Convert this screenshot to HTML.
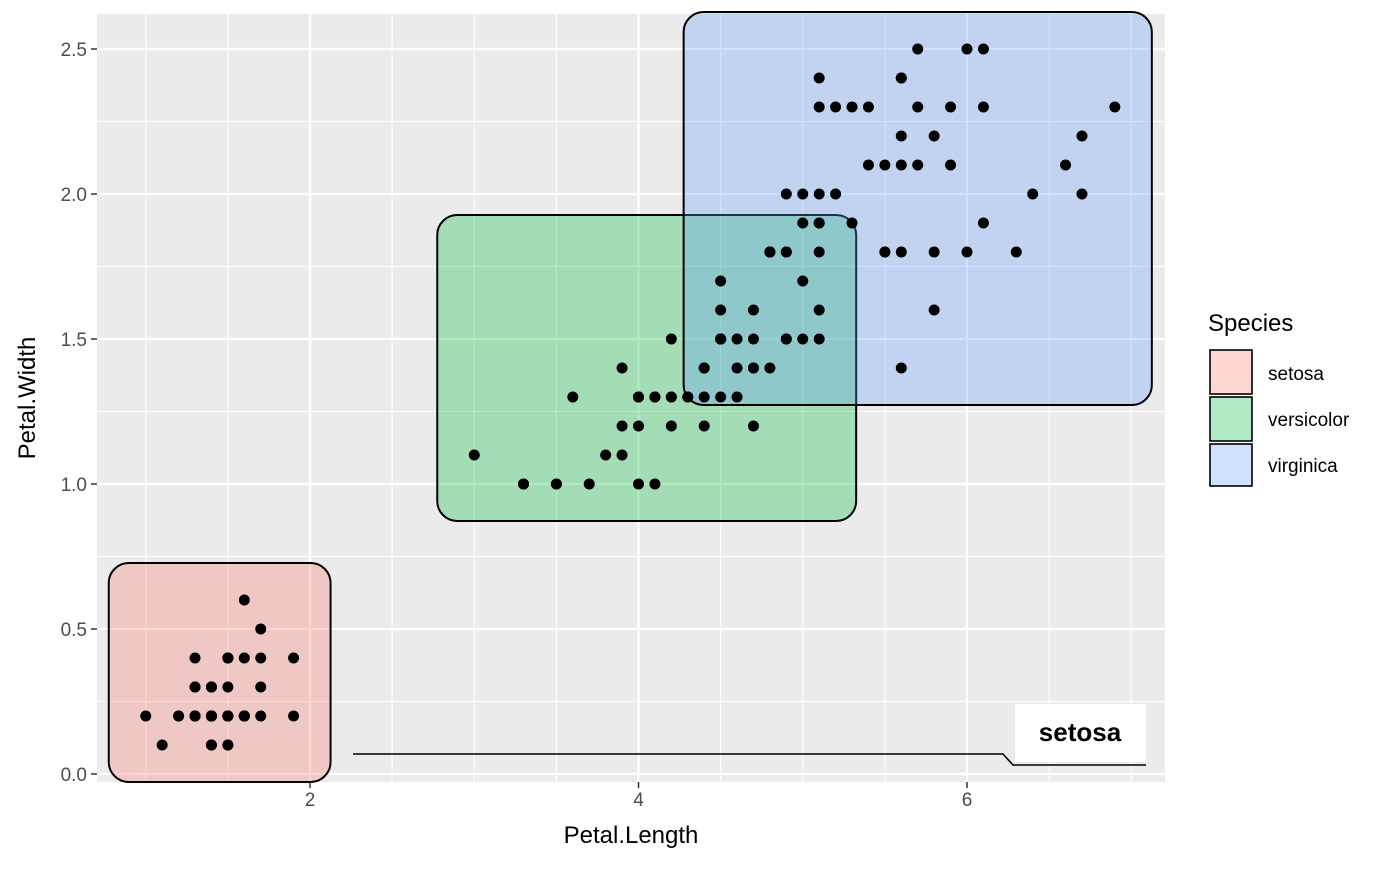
<!DOCTYPE html>
<html><head><meta charset="utf-8"><style>
body{margin:0;background:#fff;}
svg{font-family:"Liberation Sans",sans-serif;}
</style></head><body>
<svg id="chart" width="1400" height="866" viewBox="0 0 1400 866">
<rect x="97" y="14" width="1068" height="768" fill="#EBEBEB"/>
<g id="grid"></g>
<g id="marks"></g>
<g id="points"></g>
<g id="axes"></g>
<g>
<polyline points="353,754 1003,754 1013,765 1146,765" fill="none" stroke="#000" stroke-width="1.6"/>
<rect x="1015" y="704" width="131" height="58" fill="#fff"/>
<text x="1080" y="741" text-anchor="middle" font-size="26" font-weight="bold">setosa</text>
</g>
<text x="631" y="843" text-anchor="middle" font-size="24">Petal.Length</text>
<text transform="translate(35,398) rotate(-90)" text-anchor="middle" font-size="24">Petal.Width</text>
<g>
<text x="1208" y="331" font-size="24">Species</text>
<g><rect x="1210" y="350" width="42" height="44" fill="#F8766D" fill-opacity="0.3" stroke="#000" stroke-width="1.6"/><text x="1268" y="380" font-size="19">setosa</text></g>
<g><rect x="1210" y="397" width="42" height="44" fill="#00BA38" fill-opacity="0.3" stroke="#000" stroke-width="1.6"/><text x="1268" y="426" font-size="19">versicolor</text></g>
<g><rect x="1210" y="444" width="42" height="42" fill="#619CFF" fill-opacity="0.3" stroke="#000" stroke-width="1.6"/><text x="1268" y="472" font-size="19">virginica</text></g>
</g>
</svg>
<script>
const species=["setosa","versicolor","virginica"];
const colors=["#F8766D","#00BA38","#619CFF"];
const setosaLen=[1.4,1.4,1.3,1.5,1.4,1.7,1.4,1.5,1.4,1.5,1.5,1.6,1.4,1.1,1.2,1.5,1.3,1.4,1.7,1.5,1.7,1.5,1.0,1.7,1.9,1.6,1.6,1.5,1.4,1.6,1.6,1.5,1.5,1.4,1.5,1.2,1.3,1.4,1.3,1.5,1.3,1.3,1.3,1.6,1.9,1.4,1.6,1.4,1.5,1.4];
const setosaWid=[.2,.2,.2,.2,.2,.4,.3,.2,.2,.1,.2,.2,.1,.1,.2,.4,.4,.3,.3,.3,.2,.4,.2,.5,.2,.2,.4,.2,.2,.2,.2,.4,.1,.2,.2,.2,.2,.1,.2,.2,.3,.3,.2,.6,.4,.3,.2,.2,.2,.2];
const versiLen=[4.7,4.5,4.9,4.0,4.6,4.5,4.7,3.3,4.6,3.9,3.5,4.2,4.0,4.7,3.6,4.4,4.5,4.1,4.5,3.9,4.8,4.0,4.9,4.7,4.3,4.4,4.8,5.0,4.5,3.5,3.8,3.7,3.9,5.1,4.5,4.5,4.7,4.4,4.1,4.0,4.4,4.6,4.0,3.3,4.2,4.2,4.2,4.3,3.0,4.1];
const versiWid=[1.4,1.5,1.5,1.3,1.5,1.3,1.6,1.0,1.3,1.4,1.0,1.5,1.0,1.4,1.3,1.4,1.5,1.0,1.5,1.1,1.8,1.3,1.5,1.2,1.3,1.4,1.4,1.7,1.5,1.0,1.1,1.0,1.2,1.6,1.5,1.6,1.5,1.3,1.3,1.3,1.2,1.4,1.2,1.0,1.3,1.2,1.3,1.3,1.1,1.3];
const virgLen=[6.0,5.1,5.9,5.6,5.8,6.6,4.5,6.3,5.8,6.1,5.1,5.3,5.5,5.0,5.1,5.3,5.5,6.7,6.9,5.0,5.7,4.9,6.7,4.9,5.7,6.0,4.8,4.9,5.6,5.8,6.1,6.4,5.6,5.1,5.6,6.1,5.6,5.5,4.8,5.4,5.6,5.1,5.1,5.9,5.7,5.2,5.0,5.2,5.4,5.1];
const virgWid=[2.5,1.9,2.1,1.8,2.2,2.1,1.7,1.8,1.8,2.5,2.0,1.9,2.1,2.0,2.4,2.3,1.8,2.2,2.3,1.5,2.3,2.0,2.0,1.8,2.1,1.8,1.8,1.8,2.1,1.6,1.9,2.0,2.2,1.5,1.4,2.3,2.4,1.8,1.8,2.1,2.4,2.3,1.9,2.3,2.5,2.3,1.9,2.0,2.3,1.8];
const xTicks=[2,4,6];
const yTicks=[0,0.5,1.0,1.5,2.0,2.5];
const yTickLabels=["0.0","0.5","1.0","1.5","2.0","2.5"];

const NS="http://www.w3.org/2000/svg";
const X0=97,X1=1165,Y0=14,Y1=782;
const xs=v=>310+(v-2)*164.25;
const ys=v=>774-v*290;
function mk(tag,attrs,parent){const e=document.createElementNS(NS,tag);for(const k in attrs)e.setAttribute(k,attrs[k]);parent.appendChild(e);return e;}
const grid=document.getElementById('grid');
for(let v=1;v<=7;v+=0.5){const x=xs(v);if(x<X0||x>X1)continue;const major=xTicks.includes(v);
 const l=mk('line',{x1:x,x2:x,y1:Y0,y2:Y1,stroke:'#fff','stroke-width':major?2.2:1.1},grid);
 }
for(let v=0;v<=2.75;v+=0.25){const y=ys(v);if(y<Y0||y>Y1)continue;const major=Math.abs(v*2-Math.round(v*2))<1e-9;
 const l=mk('line',{x1:X0,x2:X1,y1:y,y2:y,stroke:'#fff','stroke-width':major?2.2:1.1},grid);
 }
const lens=[setosaLen,versiLen,virgLen],wids=[setosaWid,versiWid,virgWid];
const marks=document.getElementById('marks'),pts=document.getElementById('points');
const E=37;
lens.forEach((L,i)=>{const W=wids[i];
 const x0=xs(Math.min(...L))-E,x1=xs(Math.max(...L))+E,y0=ys(Math.max(...W))-E,y1=ys(Math.min(...W))+E;
 const r=mk('rect',{x:x0,y:y0,width:x1-x0,height:y1-y0,rx:20,fill:colors[i],'fill-opacity':0.3,stroke:'#000','stroke-width':2},marks);
 });
lens.forEach((L,i)=>{L.forEach((v,j)=>{
 const c=mk('circle',{cx:xs(v),cy:ys(wids[i][j]),r:5.5,fill:'#000'},pts);
 });});
const axes=document.getElementById('axes');
xTicks.forEach(v=>{const x=xs(v);
 const t=mk('line',{x1:x,x2:x,y1:Y1,y2:Y1+6,stroke:'#333','stroke-width':1.5},axes);
 
 const tx=mk('text',{x:x,y:Y1+24,'text-anchor':'middle','font-size':19,fill:'#4D4D4D'},axes);tx.textContent=v;
 });
yTicks.forEach((v,i)=>{const y=ys(v);
 const t=mk('line',{x1:X0-6,x2:X0,y1:y,y2:y,stroke:'#333','stroke-width':1.5},axes);
 
 const tx=mk('text',{x:X0-10,y:y+7,'text-anchor':'end','font-size':19,fill:'#4D4D4D'},axes);tx.textContent=yTickLabels[i];
 });
</script>
</body></html>
